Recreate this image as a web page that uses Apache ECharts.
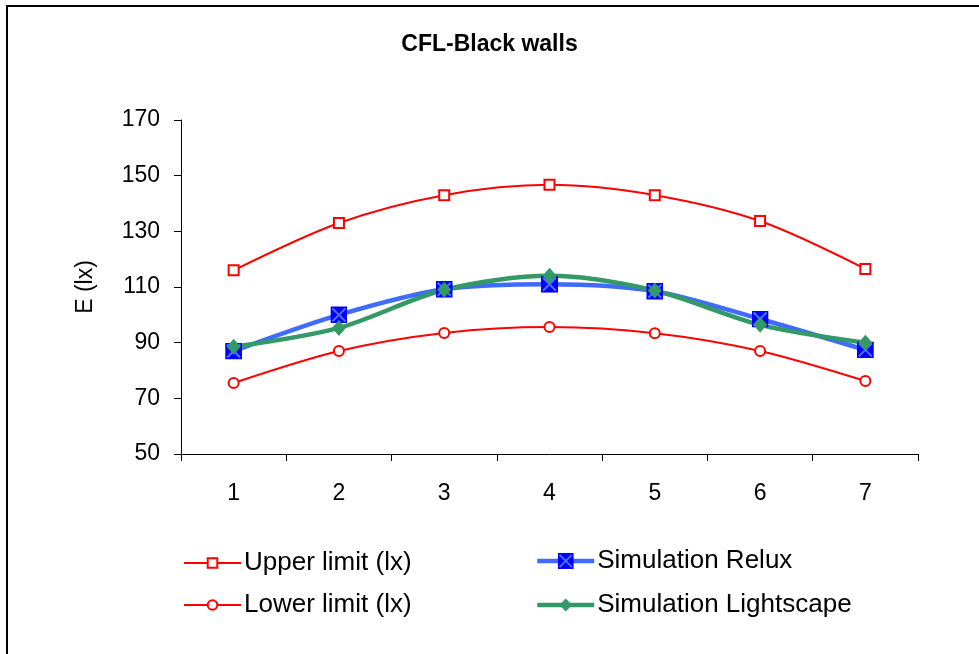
<!DOCTYPE html>
<html>
<head>
<meta charset="utf-8">
<script src="https://cdn.jsdelivr.net/npm/echarts@6/dist/echarts.min.js"></script>
<style>
html,body{margin:0;padding:0;background:#fff;}
#main{width:979px;height:654px;}
</style>
</head>
<body>
<div id="main"></div>
<script>
const categories = ['1', '2', '3', '4', '5', '6', '7'];
const upperLimit = [116, 133, 143, 146.7, 143, 133.7, 116.5];
const lowerLimit = [75.5, 87, 93.5, 95.6, 93.4, 87, 76.2];
const relux = [87, 100, 109.2, 111, 108.5, 98.5, 87.4];
const lightscape = [88.5, 95.3, 109, 114, 108.7, 96.4, 90];
const yTicks = { min: 50, max: 170, interval: 20 };

const FONT = 'Liberation Sans, Arial, sans-serif';
const reluxSvg = '<svg xmlns="http://www.w3.org/2000/svg" width="17" height="17" viewBox="0 0 17 17">' +
  '<rect x="0" y="0" width="17" height="17" fill="#0000FF"/>' +
  '<path d="M2 2 L15 15 M15 2 L2 15" stroke="#4D70FF" stroke-width="2"/></svg>';
const reluxSymbol = 'image://data:image/svg+xml;charset=utf-8,' + encodeURIComponent(reluxSvg);

const chart = echarts.init(document.getElementById('main'), null, { renderer: 'canvas' });

function legendAt(name, left, top, lw, ih) {
  return {
    data: [name], left: left, top: top, itemWidth: 57, itemHeight: ih, itemGap: 0,
    selectedMode: false, padding: 0,
    lineStyle: { width: lw },
    textStyle: { fontFamily: FONT, fontSize: 26, color: '#000', padding: [0, 0, 0, -2] }
  };
}

chart.setOption({
  animation: false,
  backgroundColor: '#fff',
  title: {
    text: 'CFL-Black walls', left: 'center', top: 28,
    textStyle: { fontFamily: FONT, fontSize: 23, fontWeight: 'bold', color: '#000' }
  },
  graphic: [{
    type: 'polyline', shape: { points: [[7, 700], [7, 6], [1000, 6]] },
    style: { stroke: '#000', lineWidth: 2, fill: null }, silent: true
  }],
  legend: [
    legendAt('Upper limit (lx)', 183, 550, 2, 12),
    legendAt('Lower limit (lx)', 183, 592, 2, 12),
    legendAt('Simulation Relux', 535, 548, 4.5, 20),
    legendAt('Simulation Lightscape', 535, 592, 4.5, 16)
  ],
  grid: { left: 181, right: 61, top: 120, bottom: 200 },
  xAxis: {
    type: 'category', data: categories, boundaryGap: true,
    axisLine: { lineStyle: { color: '#000', width: 1 } },
    axisTick: { show: true, length: 7, lineStyle: { color: '#000' } },
    axisLabel: { fontFamily: FONT, fontSize: 23, color: '#000', margin: 28 },
    splitLine: { show: false }
  },
  yAxis: {
    type: 'value', min: yTicks.min, max: yTicks.max, interval: yTicks.interval,
    name: 'E (lx)', nameLocation: 'middle', nameGap: 84, nameRotate: 90,
    nameTextStyle: { fontFamily: FONT, fontSize: 23, color: '#000' },
    axisLine: { show: true, lineStyle: { color: '#000', width: 1 } },
    axisTick: { show: true, length: 7, lineStyle: { color: '#000' } },
    axisLabel: { fontFamily: FONT, fontSize: 23, color: '#000', margin: 21 },
    splitLine: { show: false }
  },
  series: [
    {
      name: 'Upper limit (lx)', type: 'line', data: upperLimit, smooth: 0.3,
      symbol: 'rect', symbolSize: 10, showAllSymbol: true,
      lineStyle: { color: '#FF0000', width: 2 },
      itemStyle: { color: '#fff', borderColor: '#FF0000', borderWidth: 2 }
    },
    {
      name: 'Lower limit (lx)', type: 'line', data: lowerLimit, smooth: 0.3,
      symbol: 'circle', symbolSize: 10, showAllSymbol: true,
      lineStyle: { color: '#FF0000', width: 2 },
      itemStyle: { color: '#fff', borderColor: '#FF0000', borderWidth: 2 }
    },
    {
      name: 'Simulation Relux', type: 'line', data: relux, smooth: 0.3,
      symbol: reluxSymbol, symbolSize: 17, showAllSymbol: true,
      lineStyle: { color: '#3F6BFF', width: 4.5 },
      itemStyle: { color: '#0000FF' }
    },
    {
      name: 'Simulation Lightscape', type: 'line', data: lightscape, smooth: 0.3,
      symbol: 'diamond', symbolSize: [14, 16], showAllSymbol: true,
      lineStyle: { color: '#339966', width: 4.5 },
      itemStyle: { color: '#339966' }
    }
  ]
});
</script>
</body>
</html>
